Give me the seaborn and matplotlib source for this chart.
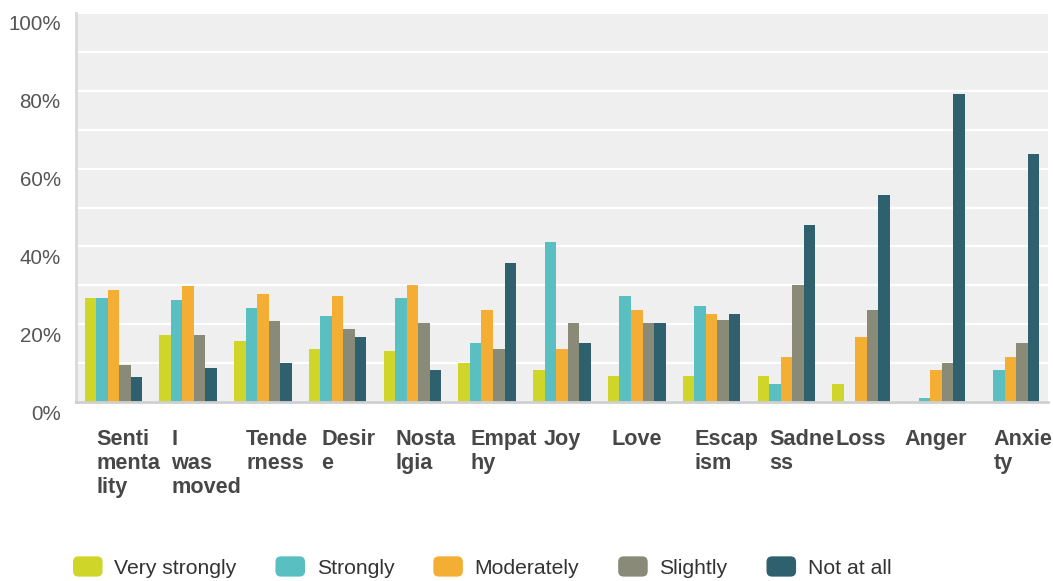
import matplotlib
matplotlib.use("Agg")
import matplotlib.pyplot as plt
from matplotlib.patches import Patch, FancyBboxPatch
from matplotlib.legend_handler import HandlerPatch
from matplotlib.transforms import ScaledTranslation, blended_transform_factory
import seaborn as sns
import pandas as pd

# Share of respondents (%) per emotion and intensity level
emotions = ["Sentimentality", "I was moved", "Tenderness", "Desire", "Nostalgia",
            "Empathy", "Joy", "Love", "Escapism", "Sadness", "Loss", "Anger", "Anxiety"]
tick_labels = ["Senti\nmenta\nlity", "I\nwas\nmoved", "Tende\nrness", "Desir\ne",
               "Nosta\nlgia", "Empat\nhy", "Joy", "Love", "Escap\nism", "Sadne\nss",
               "Loss", "Anger", "Anxie\nty"]
levels = ["Very strongly", "Strongly", "Moderately", "Slightly", "Not at all"]

very_strongly = [26.7, 17.2, 15.7, 13.6, 13.1, 10.1, 8.2, 6.6, 6.6, 6.6, 4.6, 0.0, 0.0]
strongly      = [26.7, 26.2, 24.1, 22.1, 26.7, 15.1, 41.1, 27.2, 24.6, 4.6, 0.0, 1.1, 8.2]
moderately    = [28.7, 29.7, 27.7, 27.2, 30.1, 23.7, 13.6, 23.7, 22.7, 11.6, 16.7, 8.2, 11.6]
slightly      = [9.6, 17.2, 20.7, 18.7, 20.2, 13.6, 20.2, 20.2, 21.1, 30.1, 23.7, 10.1, 15.1]
not_at_all    = [6.5, 8.7, 10.1, 16.7, 8.2, 35.7, 15.1, 20.2, 22.7, 45.6, 53.1, 79.2, 63.7]

colors = ["#CFD629", "#5ABFC1", "#F4AE34", "#898A78", "#2E606D"]

series = [very_strongly, strongly, moderately, slightly, not_at_all]
df = pd.DataFrame({
    "emotion": [e for _ in levels for e in emotions],
    "level": [lv for lv in levels for _ in emotions],
    "pct": [v for s in series for v in s],
})

sns.set_theme(style="white")
plt.rcParams["font.family"] = ["Liberation Sans", "DejaVu Sans"]

W, H = 1053, 581
fig = plt.figure(figsize=(W / 100, H / 100), dpi=100)
ax = fig.add_axes([76 / W, 1 - 402 / H, 972 / W, (402 - 13) / H])
ax.set_facecolor("#EFEFEF")

sns.barplot(data=df, x="emotion", y="pct", hue="level", order=emotions,
            hue_order=levels, palette=colors, width=0.77, linewidth=0,
            saturation=1, legend=False, ax=ax)

ax.set_ylim(0, 100)
ax.set_xlim(-0.5, len(emotions) - 0.5)
ax.set_yticks(range(0, 101, 20))
ax.set_yticks(range(10, 100, 20), minor=True)
ax.set_yticklabels([f"{v}%" for v in range(0, 101, 20)])
ax.grid(axis="y", which="both", color="white", linewidth=1.6)
ax.set_axisbelow(True)
ax.tick_params(axis="y", which="both", length=0, pad=11, labelsize=14.8,
               labelcolor="#555555")
for lbl in ax.get_yticklabels():
    lbl.set_transform(lbl.get_transform() + ScaledTranslation(0, -0.10, fig.dpi_scale_trans))

ax.set_xticks([])
ax.set_xlabel("")
ax.set_ylabel("")

for side in ["top", "right"]:
    ax.spines[side].set_visible(False)
ax.spines["left"].set_color("#D9D9D9")
ax.spines["left"].set_linewidth(2)
ax.spines["bottom"].set_color("#CFCFCF")
ax.spines["bottom"].set_linewidth(2)

# Category labels below each group
trans = blended_transform_factory(ax.transData, ax.transAxes) + \
    ScaledTranslation(0, -0.27, fig.dpi_scale_trans)
for i, lab in enumerate(tick_labels):
    if "\n" in lab:
        ax.text(i - 0.223, 0, lab, transform=trans, ha="left", va="top",
                multialignment="left", fontsize=15.6, fontweight="bold",
                color="#474747", linespacing=1.2)
    else:
        ax.text(i, 0, lab, transform=trans, ha="center", va="top",
                fontsize=15.6, fontweight="bold", color="#474747")


class RoundedSquare(HandlerPatch):
    def create_artists(self, legend, orig_handle, xdescent, ydescent, width,
                       height, fontsize, trans):
        p = FancyBboxPatch((-xdescent, -ydescent), width, height,
                           boxstyle="round,pad=0,rounding_size=4",
                           facecolor=orig_handle.get_facecolor(),
                           edgecolor="none", transform=trans)
        return [p]


handles = [Patch(facecolor=c, label=l) for c, l in zip(colors, levels)]
fig.legend(handles=handles, loc="center left",
           bbox_to_anchor=(73 / W, 1 - 567 / H), ncol=5, frameon=False,
           fontsize=15.2, handlelength=1.4, handleheight=1.1,
           handletextpad=0.55, columnspacing=1.85, borderpad=0,
           borderaxespad=0, labelcolor="#333333",
           handler_map={Patch: RoundedSquare()})

fig.savefig("out.png", dpi=100, facecolor="white")
